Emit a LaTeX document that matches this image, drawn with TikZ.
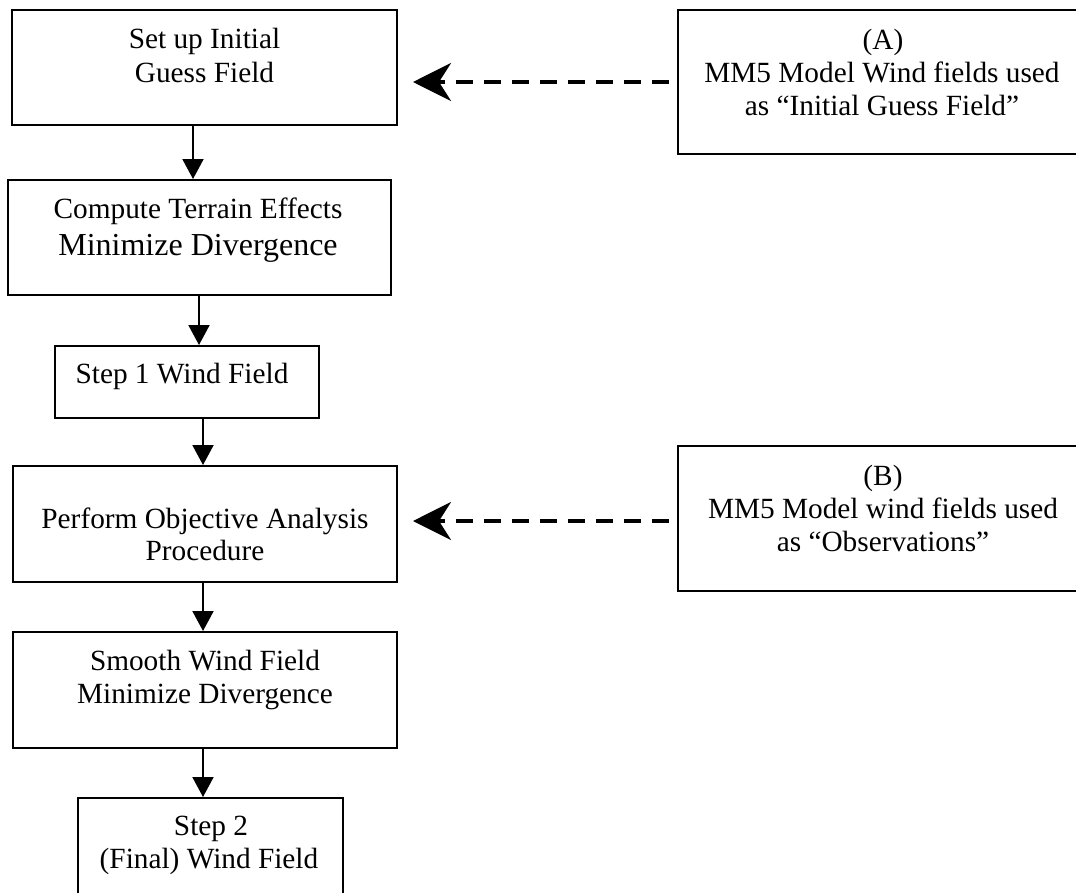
\documentclass[tikz,border=0pt]{standalone}
\usepackage{fontspec}
\setmainfont{Liberation Serif}
\usetikzlibrary{arrows.meta}
\tikzset{
  box/.style={draw=black, line width=2pt, fill=none, rectangle, inner sep=0pt},
  txt/.style={anchor=base, inner sep=0pt, font=\fontsize{29.3pt}{33pt}\selectfont},
  bigtxt/.style={anchor=base, inner sep=0pt, font=\fontsize{32pt}{37pt}\selectfont},
  varrow/.style={line width=2pt, -{Triangle[length=20pt,width=21pt]}},
  darrow/.style={line width=4pt, dash pattern=on 17pt off 11pt, -{Stealth[length=38pt,width=38pt,inset=12pt]}}
}
\begin{document}
\begin{tikzpicture}[x=1pt,y=-1pt]
\useasboundingbox (0,0) rectangle (1076,892);
% boxes
\node[box, minimum width=385pt, minimum height=115pt] (b1) at (204.5,67.5) {};
\node[box, minimum width=383pt, minimum height=115pt] (b2) at (199.5,237.5) {};
\node[box, minimum width=264pt, minimum height=72pt]  (b3) at (187,382) {};
\node[box, minimum width=384pt, minimum height=116pt] (b4) at (205,524) {};
\node[box, minimum width=384pt, minimum height=116pt] (b5) at (205,690) {};
\node[box, minimum width=265pt, minimum height=112pt] (b6) at (210.5,854) {};
\node[box, minimum width=408pt, minimum height=144pt] (bA) at (882,82) {};
\node[box, minimum width=408pt, minimum height=145pt] (bB) at (882,518.5) {};
% texts
\node[txt] (t1a) at (204.5,48) {Set up Initial};
\node[txt] (t1b) at (204.5,82) {Guess Field};
\node[txt] (t2a) at (198,218) {Compute Terrain Effects};
\node[bigtxt] (t2b) at (198,255) {Minimize Divergence};
\node[txt] (t3a) at (182,383) {Step 1 Wind Field};
\node[txt] (t4a) at (205,528) {Perform Objective Analysis};
\node[txt] (t4b) at (205,560) {Procedure};
\node[txt] (t5a) at (205,670) {Smooth Wind Field};
\node[txt] (t5b) at (205,703) {Minimize Divergence};
\node[txt] (t6a) at (211,835) {Step 2};
\node[txt] (t6b) at (209,868) {(Final) Wind Field};
\node[txt] (tAa) at (883,49) {(A)};
\node[txt] (tAb) at (882,82) {MM5 Model Wind fields used};
\node[txt] (tAc) at (882,115) {as “Initial Guess Field”};
\node[txt] (tBa) at (883,485) {(B)};
\node[txt] (tBb) at (883,518) {MM5 Model wind fields used};
\node[txt] (tBc) at (883,551) {as “Observations”};
% vertical arrows
\draw[varrow] (b1.south -| 193,0) -- (b2.north -| 193,0);
\draw[varrow] (b2.south -| 199,0) -- (b3.north -| 199,0);
\draw[varrow] (b3.south -| 203,0) -- (b4.north -| 203,0);
\draw[varrow] (b4.south -| 203,0) -- (b5.north -| 203,0);
\draw[varrow] (b5.south -| 203,0) -- (b6.north -| 203,0);
% dashed arrows
\draw[darrow, shorten <=8pt, shorten >=15pt] (bA.west |- 0,82) -- (b1.east |- 0,82);
\draw[darrow, shorten <=8pt, shorten >=15pt] (bB.west |- 0,521) -- (b4.east |- 0,521);
\end{tikzpicture}
\end{document}
